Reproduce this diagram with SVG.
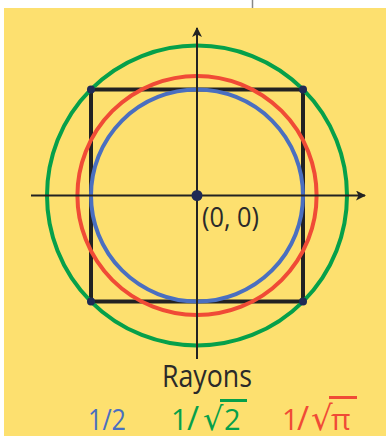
<svg xmlns="http://www.w3.org/2000/svg" width="386" height="438" viewBox="0 0 386 438">
<defs>
<style>
.lbl{font-family:"Open Sans","DejaVu Sans",sans-serif;}
.circ{fill:none;stroke-width:4;}
.ax{stroke:#222;stroke-width:2;}
.dot{fill:#1f2a55;}
.rad{font-family:"DejaVu Sans",sans-serif;}
</style>
<marker id="arr" viewBox="0 0 10 10" refX="9" refY="5" markerWidth="10" markerHeight="10" markerUnits="userSpaceOnUse" orient="auto"><path d="M0,0 L10,5 L0,10 L2.5,5 z" fill="#222"/></marker>
</defs>
<rect x="0" y="0" width="386" height="438" fill="#fff"/>
<line x1="252.5" y1="0" x2="252.5" y2="8" stroke="#888" stroke-width="1.5"/>
<rect x="4" y="8" width="382" height="428" fill="#fde06f"/>
<g id="square"><rect x="91" y="89.5" width="212" height="212" fill="none" stroke="#222" stroke-width="4"/></g>
<g id="circles">
<circle id="c-blue" class="circ" cx="197" cy="195.5" r="106" stroke="#4a6fc0"/>
<circle id="c-red" class="circ" cx="197" cy="195.5" r="119.6" stroke="#f04b36"/>
<circle id="c-green" class="circ" cx="197" cy="195.5" r="150" stroke="#06a04a"/>
</g>
<g id="corners">
<circle class="dot" cx="91" cy="89.5" r="4"/>
<circle class="dot" cx="303" cy="89.5" r="4"/>
<circle class="dot" cx="91" cy="301.5" r="4"/>
<circle class="dot" cx="303" cy="301.5" r="4"/>
</g>
<g id="connectors">
<line class="ax" x1="197" y1="359" x2="197" y2="28" marker-end="url(#arr)"/>
<line class="ax" x1="31" y1="195.5" x2="365" y2="195.5" marker-end="url(#arr)"/>
</g>
<g id="origin">
<circle class="dot" cx="197" cy="195.5" r="5.5"/>
<text class="lbl" x="202" y="227" font-size="28" fill="#2a2a2a" textLength="57" lengthAdjust="spacingAndGlyphs">(0, 0)</text>
</g>
<g id="legend">
<text class="lbl" x="162" y="387" font-size="31" fill="#2a2a2a" textLength="90" lengthAdjust="spacingAndGlyphs">Rayons</text>
<text class="lbl" x="88" y="430" font-size="29" fill="#4a6fc0" textLength="38" lengthAdjust="spacingAndGlyphs">1/2</text>
<g id="leg-green">
<text class="lbl" x="171" y="430" font-size="29" fill="#06a04a"><tspan>1</tspan><tspan x="187" font-size="33">/</tspan><tspan x="203" class="rad" font-size="32">√</tspan><tspan x="224">2</tspan></text>
<line x1="220" y1="400.5" x2="247" y2="400.5" stroke="#06a04a" stroke-width="3"/>
</g>
<g id="leg-red">
<text class="lbl" x="282" y="430" font-size="29" fill="#f04b36"><tspan>1</tspan><tspan x="297" font-size="33">/</tspan><tspan x="311" class="rad" font-size="34">√</tspan><tspan x="331" font-size="30">π</tspan></text>
<line x1="329" y1="397.5" x2="357" y2="397.5" stroke="#f04b36" stroke-width="3"/>
</g>
</g>
</svg>
